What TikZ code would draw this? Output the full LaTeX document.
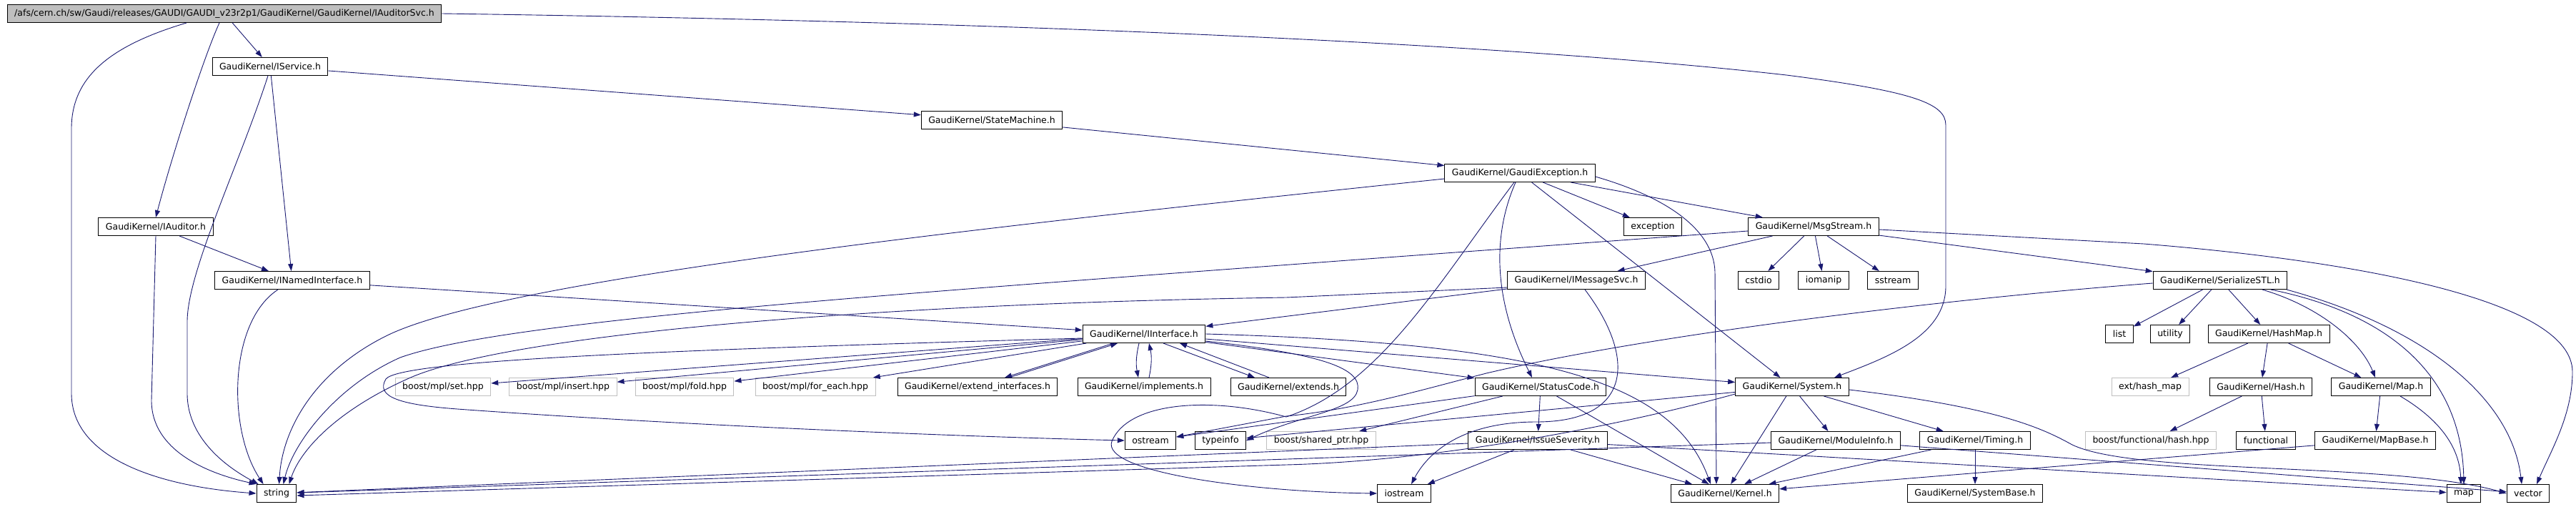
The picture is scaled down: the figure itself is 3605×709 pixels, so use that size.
\documentclass[tikz,border=0pt]{standalone}
\usepackage{fontspec}
\newfontfamily\graphfont{DejaVu Sans}
\usetikzlibrary{arrows.meta}
\definecolor{edgeblue}{HTML}{191970}
\definecolor{boxgray}{HTML}{BFBFBF}

\begin{document}
\begin{tikzpicture}[x=1pt, y=-1pt]

\tikzstyle{every node} = [rectangle, draw=black, fill=white, line width=1pt, minimum height=25pt, inner xsep=10pt, inner ysep=0pt, font=\graphfont\fontsize{12.5}{15}\selectfont]
\tikzstyle{ext} = [draw=boxgray]
\tikzstyle{dep} = [draw=edgeblue, line width=0.9pt, -{Triangle[length=10pt,width=7pt]}]

\useasboundingbox (0,0) rectangle (3605,709);

\node (root) [fill=boxgray] at (314,19) {/afs/cern.ch/sw/Gaudi/releases/GAUDI/GAUDI\_v23r2p1/GaudiKernel/GaudiKernel/IAuditorSvc.h};

\node (isvc) at (378,93) {GaudiKernel/IService.h};
\node (sm) at (1388,168) {GaudiKernel/StateMachine.h};
\node (gexc) at (2127,242) {GaudiKernel/GaudiException.h};

\node (iaud) at (218,317) {GaudiKernel/IAuditor.h};
\node (exc) at (2313,317) {exception};
\node (msg) at (2538,317) {GaudiKernel/MsgStream.h};

\node (inamed) at (409,392) {GaudiKernel/INamedInterface.h};
\node (imsg) at (2206,392) {GaudiKernel/IMessageSvc.h};
\node (cstdio) at (2461,392) {cstdio};
\node (iomanip) at (2552,392) {iomanip};
\node (sstream) at (2649,392) {sstream};
\node (serial) at (3107,392) {GaudiKernel/SerializeSTL.h};

\node (iint) at (1601,467) {GaudiKernel/IInterface.h};
\node (lst) at (2966,467) {list};
\node (util) at (3037,467) {utility};
\node (hashmap) at (3175,467) {GaudiKernel/HashMap.h};

\node (mplset) [ext] at (620,541) {boost/mpl/set.hpp};
\node (mplins) [ext] at (788,541) {boost/mpl/insert.hpp};
\node (mplfold) [ext] at (958,541) {boost/mpl/fold.hpp};
\node (mplfe) [ext] at (1141,541) {boost/mpl/for\_each.hpp};
\node (extif) at (1368,541) {GaudiKernel/extend\_interfaces.h};
\node (impl) at (1601,541) {GaudiKernel/implements.h};
\node (extends) at (1803,541) {GaudiKernel/extends.h};
\node (stat) at (2156,541) {GaudiKernel/StatusCode.h};
\node (system) at (2508,541) {GaudiKernel/System.h};
\node (exthm) [ext] at (3009,541) {ext/hash\_map};
\node (hash) at (3164,541) {GaudiKernel/Hash.h};
\node (gmap) at (3332,541) {GaudiKernel/Map.h};

\node (ostream) at (1610,616) {ostream};
\node (typeinfo) at (1708,616) {typeinfo};
\node (shptr) [ext] at (1849,616) {boost/shared\_ptr.hpp};
\node (issue) at (2152,616) {GaudiKernel/IssueSeverity.h};
\node (modinfo) at (2569,616) {GaudiKernel/ModuleInfo.h};
\node (timing) at (2764,616) {GaudiKernel/Timing.h};
\node (bfhash) [ext] at (3010,616) {boost/functional/hash.hpp};
\node (functional) at (3171,616) {functional};
\node (mapbase) at (3324,616) {GaudiKernel/MapBase.h};

\node (string) at (387,690) {string};
\node (iostream) at (1965,690) {iostream};
\node (kernel) at (2414,690) {GaudiKernel/Kernel.h};
\node (sysbase) at (2764,690) {GaudiKernel/SystemBase.h};
\node (stdmap) at (3448,690) {map};
\node (vector) at (3538,690) {vector};

\draw[dep] (root) -- (isvc);
\draw[dep] ([xshift=-7pt]root.south) .. controls (285,80) and (240,220) .. (iaud.north);
\draw[dep] ([xshift=-53pt]root.south) .. controls (150,65) and (100,110) .. (100,180) -- (100,550) .. controls (100,640) and (220,680) .. (string.west);
\draw[dep] (root.east) .. controls (1400,30) and (2100,60) .. (2500,105) .. controls (2680,128) and (2723,145) .. (2723,175) -- (2723,400) .. controls (2723,470) and (2640,500) .. ([xshift=59pt]system.north);

\draw[dep] (isvc) -- (sm);
\draw[dep] (isvc) -- (inamed);
\draw[dep] ([xshift=-3pt]isvc.south) .. controls (335,230) and (262,380) .. (262,450) -- (262,550) .. controls (262,620) and (330,660) .. ([xshift=3pt]string.north west);

\draw[dep] (iaud) -- (inamed);
\draw[dep] (iaud.south) -- (212,560) .. controls (212,630) and (290,662) .. (string.north west);

\draw[dep] (inamed) -- (iint);
\draw[dep] ([xshift=-20pt]inamed.south) .. controls (320,450) and (318,600) .. ([xshift=10pt]string.north west);

\draw[dep] (sm) -- (gexc);

\draw[dep] ([yshift=-8pt]gexc.west) .. controls (1400,315) and (700,390) .. (540,470) .. controls (440,520) and (395,600) .. ([xshift=32pt]string.north west);
\draw[dep] (gexc) -- (exc);
\draw[dep] (gexc) -- (msg);
\draw[dep] (gexc) -- (system);
\draw[dep] ([yshift=-5pt]gexc.east) .. controls (2330,275) and (2398,320) .. (2400,380) -- ([xshift=-12pt]kernel.north);
\draw[dep] ([xshift=-6pt]gexc.south) .. controls (2088,330) and (2090,420) .. ([xshift=-12pt]stat.north);
\draw[dep] ([xshift=-8pt]gexc.south) .. controls (2010,400) and (1930,540) .. (1800,583) .. controls (1700,555) and (1580,560) .. (1556,617) .. controls (1540,660) and (1750,688) .. (iostream.west);

\draw[dep] ([yshift=-6pt]msg.west) -- (1900,363) .. controls (1200,415) and (700,450) .. (560,500) .. controls (470,540) and (410,620) .. ([xshift=38pt]string.north west);
\draw[dep] (msg) -- (imsg);
\draw[dep] (msg) -- (cstdio);
\draw[dep] (msg) -- (iomanip);
\draw[dep] (msg) -- (sstream);
\draw[dep] (msg) -- (serial);
\draw[dep] ([yshift=-4pt]msg.east) -- (3000,341) .. controls (3300,365) and (3600,420) .. (3600,520) .. controls (3600,580) and (3570,630) .. ([xshift=12pt]vector.north);

\draw[dep] (imsg) -- (iint);
\draw[dep] ([yshift=-10pt]imsg.west) -- (1800,416) .. controls (1200,425) and (700,470) .. (570,530) .. controls (470,575) and (420,630) .. ([xshift=46pt]string.north west);
\draw[dep] ([xshift=12pt]imsg.south) .. controls (2290,500) and (2285,590) .. (2150,590) .. controls (2050,590) and (2000,630) .. ([xshift=10pt]iostream.north);

\draw[dep] ([yshift=-4pt]serial.west) .. controls (2700,420) and (2300,470) .. (2080,522) .. controls (1990,545) and (1900,572) .. (1800,582) -- ([yshift=5pt]ostream.east);
\draw[dep] (serial) -- (lst);
\draw[dep] (serial) -- (util);
\draw[dep] (serial) -- (hashmap);
\draw[dep] ([xshift=59pt]serial.south) .. controls (3250,430) and (3305,480) .. ([xshift=-8pt]gmap.north);
\draw[dep] ([xshift=71pt]serial.south) .. controls (3350,440) and (3445,530) .. (stdmap.north);
\draw[dep] ([xshift=93pt]serial.south) .. controls (3400,460) and (3515,560) .. ([xshift=-9pt]vector.north);

\draw[dep] (iint) -- (mplset);
\draw[dep] (iint) -- (mplins);
\draw[dep] (iint) -- (mplfold);
\draw[dep] (iint) -- (mplfe);
\draw[dep] ([xshift=-43pt]iint.south) -- ([xshift=38pt]extif.north);
\draw[dep] ([xshift=44pt]extif.north) -- ([xshift=-37pt]iint.south);
\draw[dep] ([xshift=-7pt]iint.south) to[bend right=12] ([xshift=-8pt]impl.north);
\draw[dep] ([xshift=7pt]impl.north) to[bend right=12] ([xshift=7pt]iint.south);
\draw[dep] ([xshift=27pt]iint.south) -- ([xshift=-47pt]extends.north);
\draw[dep] ([xshift=-27pt]extends.north) -- ([xshift=50pt]iint.south);
\draw[dep] (iint) -- (stat);
\draw[dep] (iint) -- (system);
\draw[dep] (iint.east) .. controls (2150,480) and (2340,530) .. ([xshift=-20pt]kernel.north);
\draw[dep] ([yshift=-6pt]iint.west) .. controls (900,490) and (560,505) .. (540,530) .. controls (525,555) and (560,566) .. (640,572) .. controls (1000,598) and (1400,612) .. (ostream.west);
\draw[dep] ([yshift=-10pt]iint.east) .. controls (1850,495) and (1905,515) .. (1900,545) .. controls (1895,575) and (1820,580) .. (typeinfo.east);

\draw[dep] (stat) -- (issue);
\draw[dep] (stat) -- (kernel);
\draw[dep] (stat) -- (shptr);
\draw[dep] (stat) -- (ostream);

\draw[dep] (issue) -- (iostream);
\draw[dep] (issue) -- (kernel);
\draw[dep] (issue) -- (string);
\draw[dep] (issue) -- (stdmap);

\draw[dep] (system) -- (kernel);
\draw[dep] (system) -- (modinfo);
\draw[dep] (system) -- (timing);
\draw[dep] (system) -- (typeinfo);
\draw[dep] ([yshift=-4pt]system.east) .. controls (2800,570) and (2860,600) .. (2900,622) .. controls (2990,665) and (3350,645) .. (vector.west);
\draw[dep] ([yshift=-10pt]system.west) .. controls (2250,600) and (2000,645) .. (1800,650) -- ([yshift=-3pt]string.east);

\draw[dep] (modinfo) -- (kernel);
\draw[dep] (modinfo) -- (string);
\draw[dep] (modinfo) -- (vector);

\draw[dep] (timing) -- (kernel);
\draw[dep] (timing) -- (sysbase);

\draw[dep] (mapbase) -- (kernel);
\draw[dep] (gmap) -- (mapbase);
\draw[dep] ([xshift=27pt]gmap.south) .. controls (3420,590) and (3442,630) .. ([xshift=-4pt]stdmap.north);
\draw[dep] (hashmap) -- (exthm);
\draw[dep] (hashmap) -- (hash);
\draw[dep] (hashmap) -- (gmap);
\draw[dep] (hash) -- (bfhash);
\draw[dep] (hash) -- (functional);

\end{tikzpicture}
\end{document}
